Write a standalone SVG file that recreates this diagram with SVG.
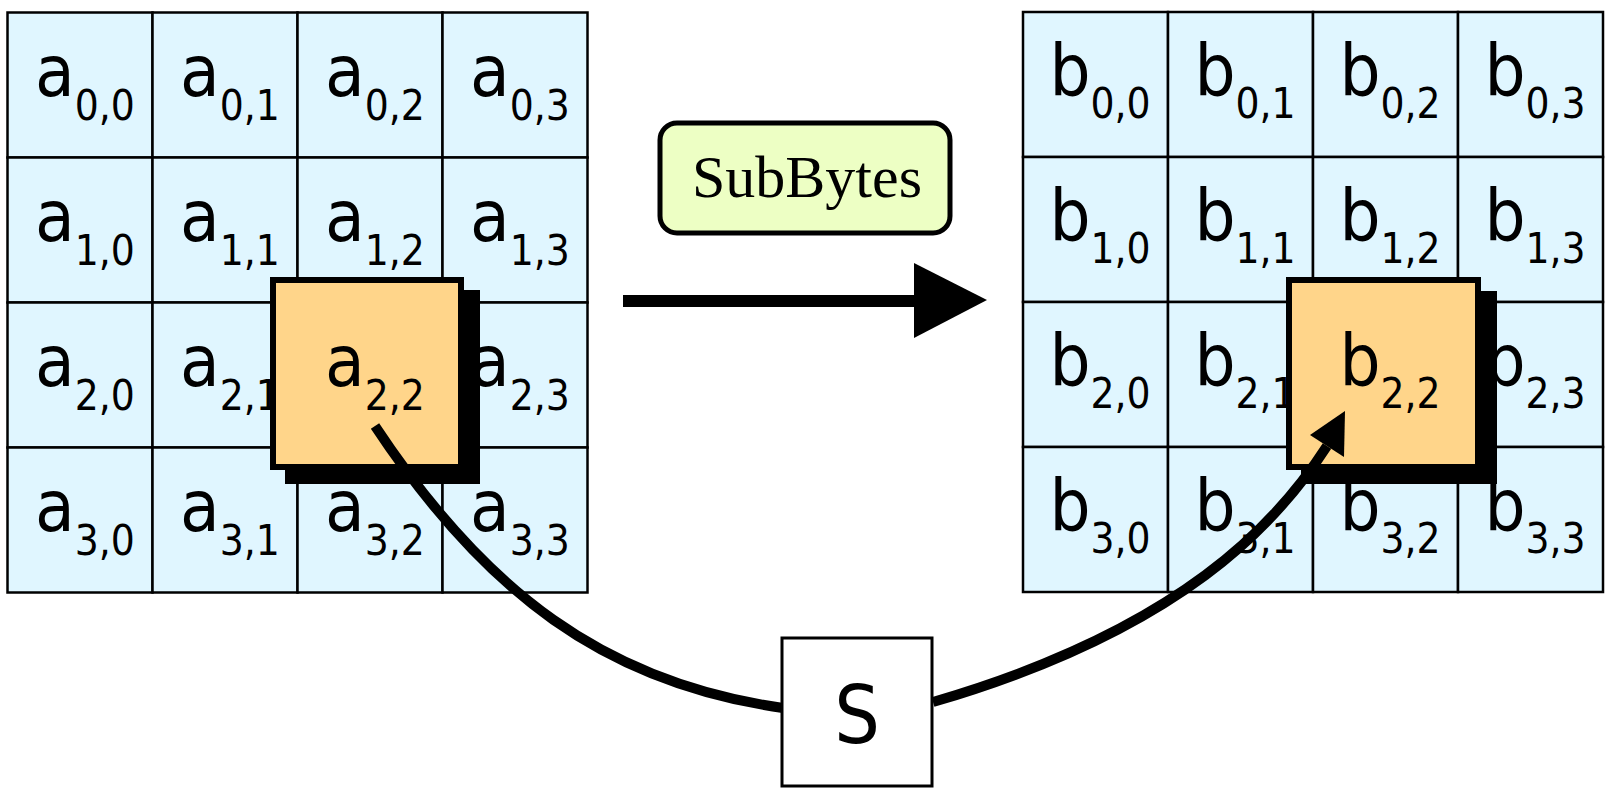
<svg xmlns="http://www.w3.org/2000/svg" width="1615" height="795" viewBox="0 0 1615 795">
<style>
.cell{fill:#E0F6FF;stroke:#000;stroke-width:2.5}
.hl{fill:#FFD58A;stroke:#000;stroke-width:6}
.t{font-family:"DejaVu Sans Condensed","DejaVu Sans",sans-serif;font-stretch:condensed;font-size:72px;fill:#000;text-anchor:middle}
.s{font-size:42px}
.conn{fill:none;stroke:#000;stroke-width:10}
</style>
<rect x="0" y="0" width="1615" height="795" fill="#fff"/>
<g id="matrix-a">
<rect class="cell" x="7.5" y="12.5" width="145" height="145"/><rect class="cell" x="152.5" y="12.5" width="145" height="145"/><rect class="cell" x="297.5" y="12.5" width="145" height="145"/><rect class="cell" x="442.5" y="12.5" width="145" height="145"/>
<rect class="cell" x="7.5" y="157.5" width="145" height="145"/><rect class="cell" x="152.5" y="157.5" width="145" height="145"/><rect class="cell" x="297.5" y="157.5" width="145" height="145"/><rect class="cell" x="442.5" y="157.5" width="145" height="145"/>
<rect class="cell" x="7.5" y="302.5" width="145" height="145"/><rect class="cell" x="152.5" y="302.5" width="145" height="145"/><rect class="cell" x="297.5" y="302.5" width="145" height="145"/><rect class="cell" x="442.5" y="302.5" width="145" height="145"/>
<rect class="cell" x="7.5" y="447.5" width="145" height="145"/><rect class="cell" x="152.5" y="447.5" width="145" height="145"/><rect class="cell" x="297.5" y="447.5" width="145" height="145"/><rect class="cell" x="442.5" y="447.5" width="145" height="145"/>
<text class="t" x="85" y="96">a<tspan class="s" dy="24">0,0</tspan></text>
<text class="t" x="230" y="96">a<tspan class="s" dy="24">0,1</tspan></text>
<text class="t" x="375" y="96">a<tspan class="s" dy="24">0,2</tspan></text>
<text class="t" x="520" y="96">a<tspan class="s" dy="24">0,3</tspan></text>
<text class="t" x="85" y="241">a<tspan class="s" dy="24">1,0</tspan></text>
<text class="t" x="230" y="241">a<tspan class="s" dy="24">1,1</tspan></text>
<text class="t" x="375" y="241">a<tspan class="s" dy="24">1,2</tspan></text>
<text class="t" x="520" y="241">a<tspan class="s" dy="24">1,3</tspan></text>
<text class="t" x="85" y="386">a<tspan class="s" dy="24">2,0</tspan></text>
<text class="t" x="230" y="386">a<tspan class="s" dy="24">2,1</tspan></text>
<text class="t" x="520" y="386">a<tspan class="s" dy="24">2,3</tspan></text>
<text class="t" x="85" y="531">a<tspan class="s" dy="24">3,0</tspan></text>
<text class="t" x="230" y="531">a<tspan class="s" dy="24">3,1</tspan></text>
<text class="t" x="375" y="531">a<tspan class="s" dy="24">3,2</tspan></text>
<text class="t" x="520" y="531">a<tspan class="s" dy="24">3,3</tspan></text>
</g>
<g id="matrix-b">
<rect class="cell" x="1023" y="12" width="145" height="145"/><rect class="cell" x="1168" y="12" width="145" height="145"/><rect class="cell" x="1313" y="12" width="145" height="145"/><rect class="cell" x="1458" y="12" width="145" height="145"/>
<rect class="cell" x="1023" y="157" width="145" height="145"/><rect class="cell" x="1168" y="157" width="145" height="145"/><rect class="cell" x="1313" y="157" width="145" height="145"/><rect class="cell" x="1458" y="157" width="145" height="145"/>
<rect class="cell" x="1023" y="302" width="145" height="145"/><rect class="cell" x="1168" y="302" width="145" height="145"/><rect class="cell" x="1313" y="302" width="145" height="145"/><rect class="cell" x="1458" y="302" width="145" height="145"/>
<rect class="cell" x="1023" y="447" width="145" height="145"/><rect class="cell" x="1168" y="447" width="145" height="145"/><rect class="cell" x="1313" y="447" width="145" height="145"/><rect class="cell" x="1458" y="447" width="145" height="145"/>
<text class="t" x="1100" y="95">b<tspan class="s" dy="23">0,0</tspan></text>
<text class="t" x="1245" y="95">b<tspan class="s" dy="23">0,1</tspan></text>
<text class="t" x="1390" y="95">b<tspan class="s" dy="23">0,2</tspan></text>
<text class="t" x="1535" y="95">b<tspan class="s" dy="23">0,3</tspan></text>
<text class="t" x="1100" y="240">b<tspan class="s" dy="23">1,0</tspan></text>
<text class="t" x="1245" y="240">b<tspan class="s" dy="23">1,1</tspan></text>
<text class="t" x="1390" y="240">b<tspan class="s" dy="23">1,2</tspan></text>
<text class="t" x="1535" y="240">b<tspan class="s" dy="23">1,3</tspan></text>
<text class="t" x="1100" y="385">b<tspan class="s" dy="23">2,0</tspan></text>
<text class="t" x="1245" y="385">b<tspan class="s" dy="23">2,1</tspan></text>
<text class="t" x="1535" y="385">b<tspan class="s" dy="23">2,3</tspan></text>
<text class="t" x="1100" y="530">b<tspan class="s" dy="23">3,0</tspan></text>
<text class="t" x="1245" y="530">b<tspan class="s" dy="23">3,1</tspan></text>
<text class="t" x="1390" y="530">b<tspan class="s" dy="23">3,2</tspan></text>
<text class="t" x="1535" y="530">b<tspan class="s" dy="23">3,3</tspan></text>
</g>
<g id="highlight-a">
<rect x="285" y="290" width="195" height="194" fill="#000"/>
<rect class="hl" x="273" y="280" width="188" height="187"/>
<text class="t" x="375" y="386">a<tspan class="s" dy="24">2,2</tspan></text>
</g>
<g id="highlight-b">
<rect x="1301" y="291" width="196" height="193" fill="#000"/>
<rect class="hl" x="1289" y="280" width="189" height="187"/>
<text class="t" x="1390" y="385">b<tspan class="s" dy="23">2,2</tspan></text>
</g>
<g id="subbytes">
<rect x="660" y="123" width="290" height="110" rx="17" fill="#EDFFC4" stroke="#000" stroke-width="5"/>
<text x="807" y="197" font-family="'Liberation Serif',serif" font-size="60" text-anchor="middle" fill="#000">SubBytes</text>
</g>
<g id="connectors">
<line x1="623" y1="301" x2="916" y2="301" stroke="#000" stroke-width="12"/>
<polygon points="914,263 987,300 914,338" fill="#000"/>
<path class="conn" d="M375,426 C485,592 605,683 783,708"/>
<path class="conn" d="M933,702 C1183,629 1278,522 1327,446"/>
<polygon points="1345,411 1310,435 1344,457" fill="#000"/>
</g>
<g id="sbox">
<rect x="782" y="638" width="150" height="148" fill="#fff" stroke="#000" stroke-width="3"/>
<text class="t" x="857" y="743" style="font-size:80px">S</text>
</g>
</svg>
